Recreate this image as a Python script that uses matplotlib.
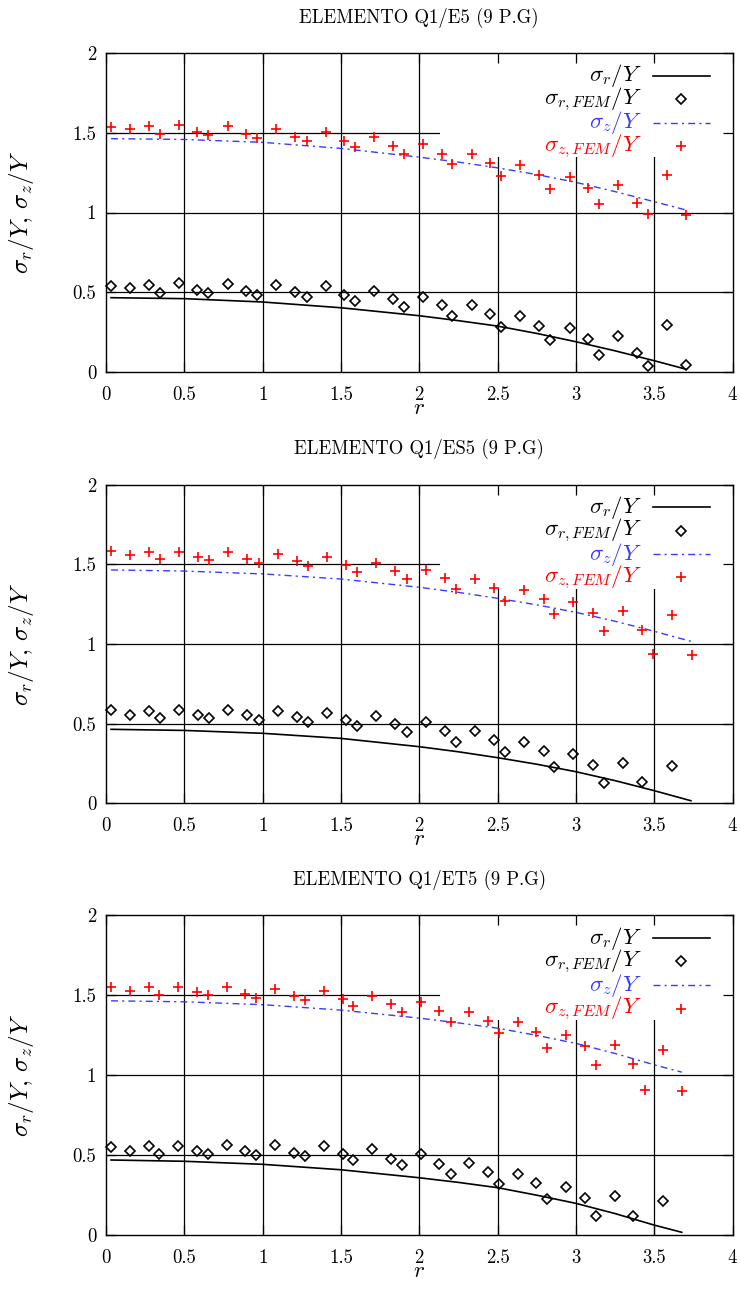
import numpy as np
import matplotlib
matplotlib.use("Agg")
import matplotlib.pyplot as plt
from matplotlib.patches import Rectangle
from matplotlib.ticker import FuncFormatter, MultipleLocator

plt.rcParams['font.family'] = ['cmr10', 'DejaVu Serif']
plt.rcParams['mathtext.fontset'] = 'cm'
plt.rcParams['axes.formatter.use_mathtext'] = True

nan = np.nan

# --- ELEMENTO Q1/E5 ---
r_e5 = [0.032, 0.153, 0.273, 0.345, 0.464, 0.583, 0.653, 0.777, 0.894, 0.966,
        1.087, 1.209, 1.282, 1.403, 1.522, 1.590, 1.711, 1.831, 1.901, 2.022,
        2.144, 2.211, 2.335, 2.454, 2.524, 2.646, 2.765, 2.837, 2.959, 3.080,
        3.150, 3.269, 3.391, 3.461, 3.582, 3.702]
sr_fem_e5 = [0.539, 0.529, 0.543, 0.495, 0.556, 0.514, 0.493, 0.554, 0.508, 0.485,
             0.548, 0.500, 0.472, 0.539, 0.481, 0.445, 0.510, 0.456, 0.406, 0.472,
             0.420, 0.351, 0.420, 0.362, 0.280, 0.351, 0.290, 0.199, 0.274, 0.205,
             0.107, 0.226, 0.117, 0.040, 0.293, 0.044]
sz_fem_e5 = [1.538, 1.521, 1.542, 1.494, 1.551, 1.505, 1.488, 1.542, 1.494, 1.469,
             1.526, 1.475, 1.446, 1.505, 1.450, 1.409, 1.471, 1.417, 1.365, 1.429,
             1.369, 1.302, 1.369, 1.310, 1.231, 1.298, 1.235, 1.147, 1.223, 1.152,
             1.055, 1.174, 1.061, 0.989, 1.237, 0.986]
rl_e5 = [0.032, 0.5, 1.0, 1.5, 2.0, 2.25, 2.5, 2.75, 3.0, 3.25, 3.5, 3.702]
sr_e5 = [0.466, 0.460, 0.439, 0.403, 0.353, 0.322, 0.288, 0.242, 0.190, 0.133, 0.071, 0.018]
sz_e5 = [1.463, 1.458, 1.440, 1.402, 1.347, 1.316, 1.280, 1.238, 1.189, 1.131, 1.068, 1.016]

# --- ELEMENTO Q1/ES5 ---
r_es5 = [0.032, 0.153, 0.275, 0.345, 0.466, 0.589, 0.660, 0.781, 0.902, 0.975,
         1.098, 1.219, 1.290, 1.411, 1.535, 1.605, 1.726, 1.848, 1.920, 2.042,
         2.165, 2.233, 2.356, 2.478, 2.550, 2.671, 2.793, 2.863, 2.984, 3.106,
         3.178, 3.300, 3.421, 3.493, 3.616, 3.740]
sr_fem_es5 = [0.584, 0.556, 0.582, 0.538, 0.584, 0.555, 0.538, 0.584, 0.553, 0.525,
              0.578, 0.540, 0.509, 0.569, 0.521, 0.486, 0.550, 0.496, 0.446, 0.509,
              0.456, 0.387, 0.452, 0.398, 0.321, 0.385, 0.327, 0.230, 0.312, 0.239,
              0.126, 0.253, 0.134, nan, 0.235, nan]
sz_fem_es5 = [1.583, 1.556, 1.577, 1.533, 1.579, 1.548, 1.527, 1.575, 1.535, 1.510,
              1.563, 1.519, 1.489, 1.544, 1.494, 1.452, 1.510, 1.460, 1.406, 1.466,
              1.412, 1.343, 1.406, 1.353, 1.272, 1.341, 1.282, 1.186, 1.265, 1.193,
              1.081, 1.207, 1.090, 0.937, 1.184, 0.931]
rl_es5 = [0.032, 0.5, 1.0, 1.5, 2.0, 2.25, 2.5, 2.75, 3.0, 3.25, 3.5, 3.734]
sr_es5 = [0.465, 0.458, 0.440, 0.408, 0.356, 0.324, 0.287, 0.246, 0.199, 0.143, 0.080, 0.017]
sz_es5 = [1.465, 1.458, 1.440, 1.408, 1.356, 1.324, 1.287, 1.246, 1.199, 1.143, 1.080, 1.017]

# --- ELEMENTO Q1/ET5 ---
r_et5 = [0.032, 0.151, 0.273, 0.340, 0.462, 0.581, 0.651, 0.770, 0.889, 0.960,
         1.081, 1.200, 1.271, 1.390, 1.511, 1.578, 1.700, 1.820, 1.890, 2.010,
         2.129, 2.201, 2.320, 2.439, 2.510, 2.628, 2.747, 2.818, 2.937, 3.057,
         3.129, 3.248, 3.367, 3.440, 3.559, 3.678]
sr_fem_et5 = [0.554, 0.529, 0.558, 0.508, 0.560, 0.525, 0.508, 0.564, 0.525, 0.502,
              0.562, 0.514, 0.496, 0.558, 0.506, 0.471, 0.537, 0.479, 0.439, 0.506,
              0.448, 0.383, 0.450, 0.394, 0.319, 0.385, 0.325, 0.225, 0.304, 0.231,
              0.119, 0.246, 0.123, nan, 0.216, nan]
sz_fem_et5 = [1.550, 1.525, 1.550, 1.504, 1.554, 1.519, 1.500, 1.550, 1.506, 1.485,
              1.539, 1.496, 1.469, 1.527, 1.475, 1.435, 1.498, 1.444, 1.394, 1.458,
              1.400, 1.333, 1.398, 1.341, 1.263, 1.331, 1.273, 1.171, 1.252, 1.181,
              1.064, 1.191, 1.071, 0.910, 1.158, 0.904]
rl_et5 = [0.032, 0.5, 1.0, 1.5, 2.0, 2.25, 2.5, 2.75, 3.0, 3.25, 3.5, 3.676]
sr_et5 = [0.471, 0.463, 0.444, 0.410, 0.360, 0.331, 0.298, 0.251, 0.200, 0.136, 0.064, 0.019]
sz_et5 = [1.466, 1.460, 1.442, 1.408, 1.358, 1.328, 1.295, 1.250, 1.200, 1.137, 1.066, 1.020]

titles = ["ELEMENTO Q1/E5 (9 P.G)", "ELEMENTO Q1/ES5 (9 P.G)", "ELEMENTO Q1/ET5 (9 P.G)"]
labels = [r'$\sigma_r/Y$', r'$\sigma_{r,FEM}/Y$', r'$\sigma_z/Y$', r'$\sigma_{z,FEM}/Y$']

panels = [
    (r_e5, sr_fem_e5, sz_fem_e5, rl_e5, sr_e5, sz_e5),
    (r_es5, sr_fem_es5, sz_fem_es5, rl_es5, sr_es5, sz_es5),
    (r_et5, sr_fem_et5, sz_fem_et5, rl_et5, sr_et5, sz_et5),
]

BLUE = '#3a3aff'
FS = 13.5       # titles and tick labels
MFS = 16.5      # math labels
DASHDOT = (0, (5, 3, 1.5, 3))

fig = plt.figure(figsize=(7.41, 12.99), dpi=100)
rects = [
    [0.1431, 0.7136, 0.8455, 0.2456],
    [0.1431, 0.3815, 0.8455, 0.2454],
    [0.1431, 0.0490, 0.8455, 0.2463],
]

# key layout, axes fraction (gnuplot style: text right-aligned, sample after)
key_rows = [0.929, 0.856, 0.781, 0.709]
key_text_x = 0.855
key_x0, key_x1 = 0.873, 0.964
key_colors = ['black', 'black', BLUE, 'red']

for rect, title, (r, srf, szf, rl, sr, sz) in zip(rects, titles, panels):
    ax = fig.add_axes(rect)
    ax.set_xlim(0, 4)
    ax.set_ylim(0, 2)

    # grid lines (solid black)
    for gx in np.arange(0.5, 4.0, 0.5):
        ax.axvline(gx, color='black', lw=0.9, zorder=0.5)
    for gy in np.arange(0.5, 2.0, 0.5):
        ax.axhline(gy, color='black', lw=0.9, zorder=0.5)
    # opaque key area
    ax.add_patch(Rectangle((2.133, 1.347), 1.867, 0.653, facecolor='white',
                           edgecolor='none', zorder=1))

    ax.plot(rl, sr, color='black', lw=1.2, zorder=2)
    ax.plot(r, srf, linestyle='none', marker='D', ms=4.8, mfc='none',
            mec='black', mew=1.2, zorder=3, clip_on=False)
    ax.plot(rl, sz, color=BLUE, lw=1.0, linestyle=DASHDOT, zorder=2)
    ax.plot(r, szf, linestyle='none', marker='+', ms=7, mec='red', mew=1.2, zorder=3)

    # key
    for lab, yk, c in zip(labels, key_rows, key_colors):
        ax.text(key_text_x, yk, lab, transform=ax.transAxes, ha='right',
                va='center', color=c, fontsize=MFS, zorder=6)
    tr = ax.transAxes
    xm = (key_x0 + key_x1) / 2
    ax.plot([key_x0, key_x1], [key_rows[0]] * 2, transform=tr, color='black', lw=1.2, zorder=6)
    ax.plot([xm], [key_rows[1]], transform=tr, linestyle='none', marker='D', ms=4.8,
            mfc='none', mec='black', mew=1.2, zorder=6)
    ax.plot([key_x0, key_x1], [key_rows[2]] * 2, transform=tr, color=BLUE, lw=1.0,
            linestyle=DASHDOT, zorder=6)
    ax.plot([xm], [key_rows[3]], transform=tr, linestyle='none', marker='+', ms=7,
            mec='red', mew=1.2, zorder=6)

    ax.xaxis.set_major_locator(MultipleLocator(0.5))
    ax.yaxis.set_major_locator(MultipleLocator(0.5))
    fmt = FuncFormatter(lambda v, p: '%g' % v)
    ax.xaxis.set_major_formatter(fmt)
    ax.yaxis.set_major_formatter(fmt)
    ax.tick_params(direction='in', length=7.2, width=0.9, top=True, right=True,
                   labelsize=FS)
    ax.tick_params(axis='x', pad=10)
    ax.tick_params(axis='y', pad=7)
    for s in ax.spines.values():
        s.set_linewidth(1.0)
        s.set_zorder(4)

    ax.set_title(title, fontsize=FS, pad=22)
    ax.set_xlabel(r'$r$', fontsize=MFS)
    ax.xaxis.set_label_coords(0.5, -0.082)
    ax.set_ylabel(r'$\sigma_r/Y,\,\sigma_z/Y$', fontsize=18)
    ax.yaxis.set_label_coords(-0.112, 0.5)

fig.savefig('out.png', dpi=100)
